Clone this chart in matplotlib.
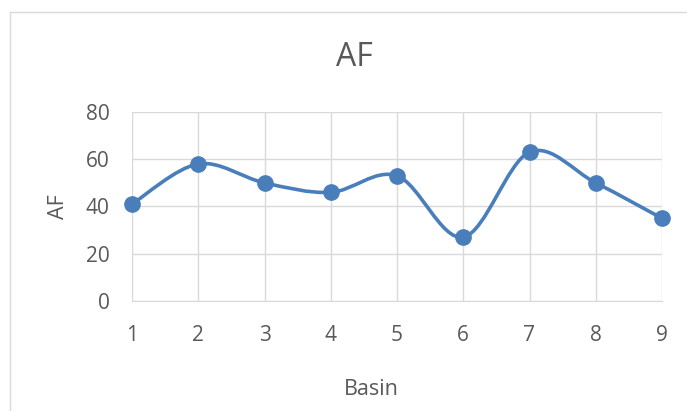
import matplotlib.pyplot as plt
from matplotlib.path import Path
from matplotlib.patches import PathPatch
from matplotlib.lines import Line2D

plt.rcParams['font.family'] = ['Open Sans', 'DejaVu Sans']

basins = [1, 2, 3, 4, 5, 6, 7, 8, 9]
af = [41, 58, 50, 46, 53, 27, 63, 50, 35]

line_color = '#4a7ebb'
text_color = '#595959'
grid_color = '#d9d9d9'


def smooth_path(xs, ys):
    # cubic bezier through the points, control points from neighbours (Catmull-Rom)
    pts = list(zip(xs, ys))
    verts = [pts[0]]
    codes = [Path.MOVETO]
    n = len(pts)
    for i in range(n - 1):
        p0 = pts[i - 1] if i > 0 else pts[i]
        p1 = pts[i]
        p2 = pts[i + 1]
        p3 = pts[i + 2] if i + 2 < n else pts[i + 1]
        c1 = (p1[0] + (p2[0] - p0[0]) / 6, p1[1] + (p2[1] - p0[1]) / 6)
        c2 = (p2[0] - (p3[0] - p1[0]) / 6, p2[1] - (p3[1] - p1[1]) / 6)
        verts += [c1, c2, p2]
        codes += [Path.CURVE4] * 3
    return Path(verts, codes)


fig = plt.figure(figsize=(6.87, 4.11), dpi=100)
ax = fig.add_axes([132 / 687, 1 - 301 / 411, 530 / 687, 189 / 411])

ax.add_patch(PathPatch(smooth_path(basins, af), fill=False, edgecolor=line_color,
                       linewidth=2.6, capstyle='round', zorder=3))
ax.plot(basins, af, 'o', color=line_color, markersize=11, zorder=4, clip_on=False)

ax.set_xlim(1, 9)
ax.set_ylim(0, 80)
ax.set_xticks(basins)
ax.set_yticks(range(0, 81, 20))
ax.grid(True, color=grid_color, linewidth=1)
ax.set_axisbelow(True)
for side in ['left', 'right', 'top']:
    ax.spines[side].set_visible(False)
ax.spines['bottom'].set_color(grid_color)
ax.tick_params(length=0, labelsize=15, labelcolor=text_color)
ax.tick_params(axis='x', pad=17)
ax.tick_params(axis='y', pad=16)

fig.text(354 / 687, 1 - 57 / 411, 'AF', fontsize=23, color=text_color,
         ha='center', va='center')
fig.text(371 / 687, 1 - 389 / 411, 'Basin', fontsize=15.5, color=text_color,
         ha='center', va='center')
fig.text(59 / 687, 1 - 207 / 411, 'AF', fontsize=15.5, color=text_color,
         ha='center', va='center', rotation=90)

# chart area border (top and left edges)
fig.add_artist(Line2D([10 / 687, 10 / 687], [0, 1 - 12 / 411], color=grid_color, linewidth=1))
fig.add_artist(Line2D([10 / 687, 1], [1 - 12 / 411, 1 - 12 / 411], color=grid_color, linewidth=1))

fig.savefig('out.png', dpi=100)
